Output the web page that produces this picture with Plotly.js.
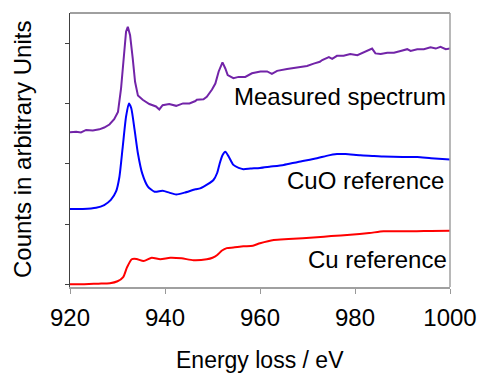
<!DOCTYPE html>
<html><head><meta charset="utf-8">
<script src="https://cdn.plot.ly/plotly-3.0.1.min.js"></script>
<style>html,body{margin:0;padding:0;background:#fff;}#chart{width:479px;height:374px;}</style>
</head><body><div id="chart"></div>
<script>
// Measured spectrum (purple)
const measuredE = [920,921.3,922.3,923.4,924.8,926.2,927.2,928.3,929.3,930.1,930.75,931.45,931.8,932.17,932.65,933.2,933.7,934.3,935.3,936.7,938.1,938.8,939.5,940.9,942.35,943.8,945.15,946.4,946.7,948.1,948.8,949.9,950.6,951.3,952.1,952.7,953.2,954.4,955.5,956.9,958.3,960.1,961.5,962.5,963.6,965.7,967.8,969.9,971.3,972.6,973.1,974.5,975.2,976.2,977.6,979,980.5,981.5,982.6,983.6,984.3,985.4,986.8,988.2,989.6,991,991.7,993.1,994.5,995.9,997,998,999.1,1000];
const measuredV = [2.52,2.53,2.52,2.56,2.55,2.57,2.60,2.65,2.74,2.86,3.25,3.91,4.19,4.27,4.13,3.75,3.36,3.13,3.06,2.99,2.95,2.90,2.97,2.99,2.96,3.0,3.0,3.04,3.06,3.07,3.11,3.23,3.33,3.53,3.68,3.58,3.47,3.42,3.44,3.44,3.50,3.53,3.53,3.49,3.54,3.57,3.60,3.62,3.66,3.69,3.72,3.77,3.74,3.79,3.79,3.82,3.80,3.84,3.87,3.91,3.83,3.82,3.84,3.84,3.87,3.90,3.87,3.90,3.90,3.93,3.91,3.94,3.90,3.91];
// CuO reference (blue)
const cuoE = [920,922.7,925.5,927.2,928.6,929.7,930.4,931.1,931.8,932.4,932.9,933.6,934.3,935.2,936.4,937.8,939.5,940.9,942.35,944.1,946.4,947.4,949,950.2,951,951.5,952.1,952.7,953.4,954.4,955.5,956.5,958,960,962,965,968,972,974,976.2,978,981.1,984,986,990,993.1,996,1000];
const cuoV = [1.249,1.25,1.27,1.315,1.40,1.54,1.78,2.28,2.78,3.0,2.92,2.56,2.17,1.84,1.62,1.535,1.55,1.52,1.49,1.52,1.575,1.59,1.66,1.73,1.85,2.0,2.14,2.2,2.12,1.98,1.93,1.91,1.92,1.93,1.95,1.98,2.03,2.09,2.13,2.16,2.16,2.14,2.13,2.12,2.11,2.11,2.09,2.07];
// Cu reference (red)
const cuE = [920,922,924,926,928.4,930,931.2,932,933,934,935.5,937.2,939,941.1,943.5,946,948.8,950,951,952,953,954.4,956.5,958.5,960,962.9,966,972,975,979,983,986,990,993,996,1000];
const cuV = [0.0,0.0,0.005,0.01,0.017,0.05,0.12,0.28,0.415,0.42,0.386,0.44,0.415,0.44,0.43,0.40,0.415,0.44,0.486,0.56,0.60,0.61,0.63,0.64,0.68,0.735,0.75,0.78,0.80,0.82,0.85,0.88,0.88,0.88,0.885,0.89];

const xTicks = [920,940,960,980,1000];
const yTicks = [0,1,2,3,4];
const labels = ["Measured spectrum","CuO reference","Cu reference"];
const xTitle = "Energy loss / eV";
const yTitle = "Counts in arbitrary Units";

const font = "Liberation Sans, Arial, sans-serif";
const traces = [
  {x: measuredE, y: measuredV, mode:'lines', line:{color:'#7224A8', width:2}},
  {x: cuoE, y: cuoV, mode:'lines', line:{color:'#0000FF', width:2, shape:'spline', smoothing:0.6}},
  {x: cuE, y: cuV, mode:'lines', line:{color:'#FF0000', width:2, shape:'spline', smoothing:0.6}}
];
const L=70, R=29, T=13, B=87, H=374-T-B, W=479-L-R;
const py = p => (374-B-p)/H;
const px = p => (p-L)/W;
const layout = {
  width:479, height:374,
  margin:{l:L, r:R, t:T, b:B, pad:0},
  paper_bgcolor:'#fff', plot_bgcolor:'#fff',
  showlegend:false,
  font:{family:font, color:'#000'},
  xaxis:{range:[920,1000], tickvals:xTicks, ticktext:xTicks.map(String), ticks:'outside', ticklen:5, tickwidth:1, tickcolor:'#999',
    ticklabelstandoff:3,
    showline:true, linecolor:'#a0a0a0', linewidth:2, showgrid:false, zeroline:false,
    tickfont:{size:24, family:font, color:'#000'}, fixedrange:true},
  yaxis:{range:[-0.045,4.5], tickvals:yTicks, showticklabels:false, ticks:'outside', ticklen:4, tickwidth:1, tickcolor:'#404040',
    showline:true, linecolor:'#404040', linewidth:1, showgrid:false, zeroline:false, fixedrange:true},
  shapes:[
    {type:'line', xref:'paper', yref:'paper', x0:0, x1:1, y0:1, y1:1, line:{color:'#404040', width:1}},
    {type:'line', xref:'paper', yref:'paper', x0:1, x1:1, y0:0, y1:1, line:{color:'#a0a0a0', width:1.5}}
  ],
  annotations:[
    {text:labels[0], xref:'paper', yref:'paper', x:px(448), y:py(96), xanchor:'right', yanchor:'middle', showarrow:false, font:{size:24, family:font}},
    {text:labels[1], xref:'paper', yref:'paper', x:px(446), y:py(181), xanchor:'right', yanchor:'middle', showarrow:false, font:{size:24, family:font}},
    {text:labels[2], xref:'paper', yref:'paper', x:px(449), y:py(259), xanchor:'right', yanchor:'middle', showarrow:false, font:{size:24, family:font}},
    {text:xTitle, xref:'paper', yref:'paper', x:px(260), y:py(360), xanchor:'center', yanchor:'middle', showarrow:false, font:{size:23, family:font}},
    {text:yTitle, xref:'paper', yref:'paper', x:px(22), y:py(150), xanchor:'center', yanchor:'middle', textangle:-90, showarrow:false, font:{size:24, family:font}}
  ]
};
Plotly.newPlot('chart', traces, layout, {staticPlot:true, displayModeBar:false});
</script></body></html>
